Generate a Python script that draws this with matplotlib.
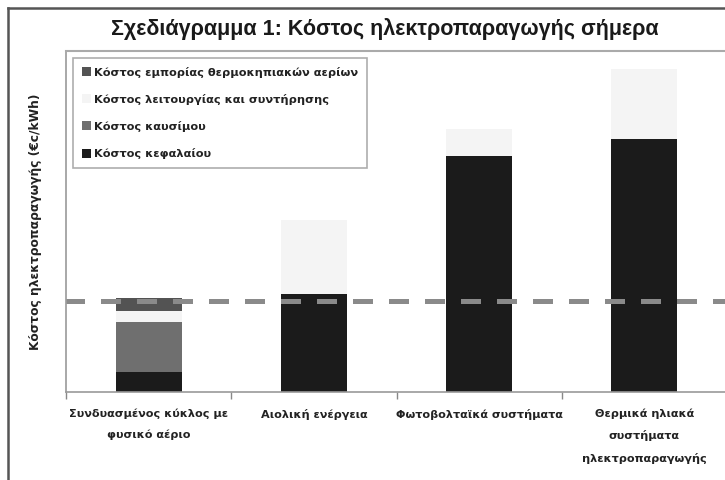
import matplotlib
matplotlib.use("Agg")
import matplotlib.pyplot as plt
from matplotlib.patches import Patch
from matplotlib.lines import Line2D
import numpy as np

categories = ["Συνδυασμένος κύκλος με\nφυσικό αέριο", "Αιολική ενέργεια",
              "Φωτοβολταϊκά συστήματα", "Θερμικά ηλιακά\nσυστήματα\nηλεκτροπαραγωγής"]
capital = [2.0, 9.8, 23.6, 25.3]
fuel = [5.0, 0.0, 0.0, 0.0]
om = [1.1, 7.4, 2.7, 7.0]
emissions = [1.3, 0.0, 0.0, 0.0]
reference_price = 9.1

series_labels = ["Κόστος κεφαλαίου", "Κόστος καυσίμου",
                 "Κόστος λειτουργίας και συντήρησης",
                 "Κόστος εμπορίας θερμοκηπιακών αερίων"]
colors = ["#1b1b1b", "#6f6f6f", "#f4f4f4", "#535353"]

W, H = 725, 480
fig = plt.figure(figsize=(W / 100, H / 100), dpi=100)
ax = fig.add_axes([66 / W, 1 - 392 / H, (727 - 66) / W, (392 - 51) / H])

x = np.arange(len(categories))
bottom = np.zeros(len(categories))
for vals, col in zip([capital, fuel, om, emissions], colors):
    ax.bar(x, vals, width=0.4, bottom=bottom, color=col, edgecolor="none", zorder=2)
    bottom += np.array(vals)

ax.axhline(reference_price, color="#8a8a8a", lw=3.6, linestyle=(0.3, (4.0, 3.2)), zorder=3)

ax.set_xlim(-0.5, 3.5)
ax.set_ylim(0, 34.1)
ax.set_yticks([])
ax.set_xticks(x)
ax.set_xticklabels(categories, fontsize=8.1, fontweight="bold", color="#222222",
                   linespacing=2.25, family="DejaVu Sans")
ax.tick_params(axis="x", which="major", length=0, pad=12)
ax.set_xticks(np.arange(-0.5, 4.0, 1.0), minor=True)
ax.tick_params(axis="x", which="minor", length=5, color="#888888", width=1)

for s in ["left", "bottom"]:
    ax.spines[s].set_color("#999999")
    ax.spines[s].set_linewidth(1.2)
ax.spines["top"].set_color("#aaaaaa")
ax.spines["top"].set_linewidth(1.5)
ax.spines["right"].set_visible(False)

ax.set_ylabel("Κόστος ηλεκτροπαραγωγής (€c/kWh)", fontsize=8.8, color="#222222",
              fontweight="bold", labelpad=17)

handles = [Patch(facecolor=c, edgecolor="none") for c in colors][::-1]
labels = series_labels[::-1]
leg = fig.legend(handles, labels, loc="upper left",
                 bbox_to_anchor=(73 / W, 1 - 58 / H), bbox_transform=fig.transFigure,
                 fancybox=False, frameon=True, edgecolor="#999999",
                 prop={"family": "DejaVu Sans", "weight": "bold", "size": 8.2},
                 handlelength=0.85, handleheight=0.85, handletextpad=0.25,
                 labelspacing=1.42, borderpad=0.75, borderaxespad=0)
leg.get_frame().set_linewidth(1.2)
for t in leg.get_texts():
    t.set_color("#222222")

fig.text(385 / W, 1 - 29 / H, "Σχεδιάγραμμα 1: Κόστος ηλεκτροπαραγωγής σήμερα",
         ha="center", va="center", fontsize=15.5, fontweight="bold",
         family="Liberation Sans", color="#1a1a1a")

fig.add_artist(Line2D([8 / W, 8 / W], [0, 1 - 8 / H], color="#555555", lw=1.8,
                      transform=fig.transFigure))
fig.add_artist(Line2D([8 / W, 1], [1 - 8 / H, 1 - 8 / H], color="#555555", lw=1.8,
                      transform=fig.transFigure))

fig.savefig("out.png", dpi=100)
